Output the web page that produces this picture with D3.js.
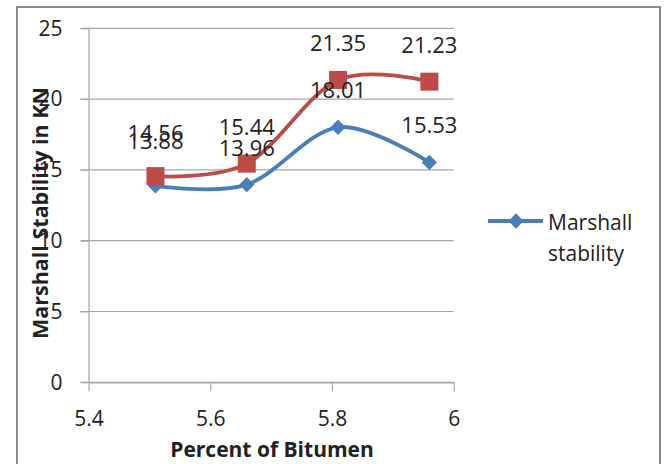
<!DOCTYPE html>
<html>
<head>
<meta charset="utf-8">
<script src="https://cdn.jsdelivr.net/npm/d3@7"></script>
<style>
  html, body { margin: 0; padding: 0; background: #fff; }
  svg { display: block; }
  text { font-family: "Open Sans", "Noto Sans", sans-serif; fill: #222; }
</style>
</head>
<body>
<svg id="chart" width="665" height="464"></svg>
<script>
// Percent of bitumen in the mix
const bitumen = [5.51, 5.66, 5.81, 5.96];
// Marshall stability (kN), first series (shown in legend)
const stabilityA = [13.88, 13.96, 18.01, 15.53];
// Marshall stability (kN), second series
const stabilityB = [14.56, 15.44, 21.35, 21.23];
const xTicks = [5.4, 5.6, 5.8, 6];
const yTicks = [0, 5, 10, 15, 20, 25];
const legendLabel = ["Marshall", "stability"];
const xTitle = "Percent of Bitumen";
const yTitle = "Marshall Stability in KN";

const svg = d3.select("#chart");
const blue = "#4a7ebb", red = "#be4b48", grid = "#a6a6a6";

const x = d3.scaleLinear().domain([5.4, 6]).range([88.5, 453.7]);
const y = d3.scaleLinear().domain([0, 25]).range([382.3, 28.3]);

// chart frame
svg.append("rect")
  .attr("x", 17).attr("y", 7).attr("width", 643).attr("height", 470)
  .attr("fill", "#fff").attr("stroke", "#8a8a8a").attr("stroke-width", 2);

// horizontal gridlines
svg.append("g").selectAll("line").data(yTicks).join("line")
  .attr("x1", x.range()[0] - 8).attr("x2", x.range()[1])
  .attr("y1", d => y(d)).attr("y2", d => y(d))
  .attr("stroke", grid).attr("stroke-width", 1.2);

// y axis
const yAxis = svg.append("g").attr("transform", `translate(${x.range()[0]},0)`)
  .call(d3.axisLeft(y).tickValues(yTicks).tickSize(8).tickSizeOuter(0).tickPadding(18));
yAxis.select(".domain").attr("stroke", grid).attr("stroke-width", 1.2);
yAxis.selectAll(".tick line").attr("stroke", grid);
yAxis.selectAll(".tick text").attr("font-size", 21).attr("fill", "#222")
  .attr("font-family", "'Open Sans', sans-serif");

// x axis
const xAxis = svg.append("g").attr("transform", `translate(0,${y(0)})`)
  .call(d3.axisBottom(x).tickValues(xTicks).tickFormat(d3.format("")).tickSize(9).tickSizeOuter(0).tickPadding(20));
xAxis.select(".domain").attr("stroke", grid).attr("stroke-width", 1.2);
xAxis.selectAll(".tick line").attr("stroke", grid).attr("stroke-width", 1.2);
xAxis.selectAll(".tick text").attr("font-size", 21).attr("fill", "#222")
  .attr("font-family", "'Open Sans', sans-serif");

// axis titles
svg.append("text").attr("x", 272).attr("y", 457).attr("text-anchor", "middle")
  .attr("font-size", 21).attr("font-weight", "bold").text(xTitle);
svg.append("text").attr("transform", "translate(48,213) rotate(-90)")
  .attr("text-anchor", "middle").attr("font-size", 21.5).attr("font-weight", "bold").text(yTitle);

// smoothed series lines
const line = d3.line().x(d => x(d[0])).y(d => y(d[1])).curve(d3.curveCatmullRom.alpha(0));
const seriesA = bitumen.map((b, i) => [b, stabilityA[i]]);
const seriesB = bitumen.map((b, i) => [b, stabilityB[i]]);

svg.append("path").datum(seriesA).attr("d", line)
  .attr("fill", "none").attr("stroke", blue).attr("stroke-width", 3.8);
svg.append("path").datum(seriesB).attr("d", line)
  .attr("fill", "none").attr("stroke", red).attr("stroke-width", 3.8);

// markers
const diamond = d3.symbol().type(d3.symbolDiamond2).size(150);
svg.append("g").selectAll("path").data(seriesA).join("path")
  .attr("transform", d => `translate(${x(d[0])},${y(d[1])})`)
  .attr("d", diamond).attr("fill", blue);
svg.append("g").selectAll("rect").data(seriesB).join("rect")
  .attr("x", d => x(d[0]) - 9).attr("y", d => y(d[1]) - 9)
  .attr("width", 18).attr("height", 18).attr("fill", red);

// data labels above each point
const lift = (i) => i === 0 ? 35 : 29;
svg.append("g").selectAll("text").data(seriesA).join("text")
  .attr("x", d => x(d[0])).attr("y", (d, i) => y(d[1]) - lift(i) - (i === 0 ? 2 : 0))
  .attr("text-anchor", "middle").attr("font-size", 22).text(d => d[1].toFixed(2));
svg.append("g").selectAll("text").data(seriesB).join("text")
  .attr("x", d => x(d[0])).attr("y", (d, i) => y(d[1]) - lift(i))
  .attr("text-anchor", "middle").attr("font-size", 22).text(d => d[1].toFixed(2));

// legend
const lg = svg.append("g").attr("transform", "translate(488,221)");
lg.append("line").attr("x1", 0).attr("x2", 55).attr("y1", 0).attr("y2", 0)
  .attr("stroke", blue).attr("stroke-width", 3.8);
lg.append("path").attr("transform", "translate(28,0)").attr("d", diamond).attr("fill", blue);
lg.selectAll("text").data(legendLabel).join("text")
  .attr("x", 60).attr("y", (d, i) => 9 + i * 31)
  .attr("font-size", 21).text(d => d);
</script>
</body>
</html>
